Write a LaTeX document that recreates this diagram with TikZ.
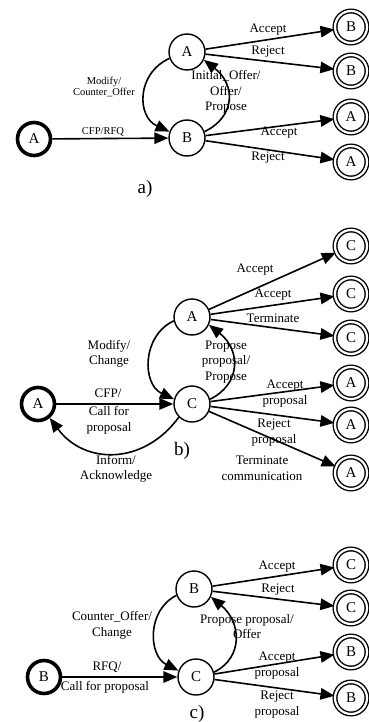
\documentclass[tikz,border=0pt]{standalone}
\usepackage{fontspec}
\setmainfont{Liberation Serif}
\usetikzlibrary{arrows.meta}
\begin{document}
\begin{tikzpicture}[x=1pt,y=-1pt,
 st/.style={circle,draw,line width=1.4pt,minimum size=36pt,inner sep=0pt,font=\fontsize{15}{15}\selectfont},
 init/.style={st,line width=3.6pt,minimum size=33pt},
 fin/.style={circle,draw,line width=1.4pt,double,double distance=2.2pt,minimum size=32pt,inner sep=0pt,font=\fontsize{15}{15}\selectfont},
 arr/.style={line width=1.6pt,-{Triangle[length=14pt,width=11.5pt]}},
 lbl/.style={font=\fontsize{13}{15.5}\selectfont,align=center,inner sep=0pt},
 sml/.style={font=\fontsize{10.5}{11.5}\selectfont,align=center,inner sep=0pt},
 subcap/.style={font=\fontsize{19}{19}\selectfont,inner sep=0pt}]
\useasboundingbox (0,0) rectangle (369,722);

% ---------- a) ----------
\node[init] (a0) at (34,139) {A};
\node[st] (a1) at (187,52) {A};
\node[st] (a2) at (187,138) {B};
\node[fin] (af1) at (351,27) {B};
\node[fin] (af2) at (351,71) {B};
\node[fin] (af3) at (351,117) {A};
\node[fin] (af4) at (351,162) {A};

\node[lbl] (la1) at (268,30) {Accept};
\node[lbl] (la2) at (268,52) {Reject};
\node[sml] (la3) at (104,87) {Modify/\\Counter\_Offer};
\node[lbl] (la4) at (226,92) {Initial\_Offer/\\Offer/\\Propose};
\node[sml] (la5) at (103,132) {CFP/RFQ};
\node[lbl] (la6) at (279,133) {Accept};
\node[lbl] (la7) at (268,158) {Reject};
\node[subcap] (lac) at (145,189) {a)};

\draw[arr] (a0) -- (a2);
\draw[arr] (a1) -- (af1);
\draw[arr] (a1) -- (af2);
\draw[arr] (a2) -- (af3);
\draw[arr] (a2) -- (af4);
\draw[arr] (a1.200) .. controls +(-33,15) and +(-33,-15) .. (a2.160);
\draw[arr] (a2.20) .. controls +(31,-15) and +(32,25) .. (a1.-25);

% ---------- b) ----------
\node[init] (b0) at (38,404) {A};
\node[st] (b1) at (192,317) {A};
\node[st] (b2) at (192,404) {C};
\node[fin] (bf1) at (351,246) {C};
\node[fin] (bf2) at (351,294) {C};
\node[fin] (bf3) at (351,338) {C};
\node[fin] (bf4) at (351,383) {A};
\node[fin] (bf5) at (351,425) {A};
\node[fin] (bf6) at (351,473) {A};

\node[lbl] (lb1) at (255,270) {Accept};
\node[lbl] (lb2) at (273,295) {Accept};
\node[lbl] (lb3) at (273,318) {Terminate};
\node[lbl] (lb4) at (109,354) {Modify/\\Change};
\node[lbl] (lb5) at (226,362) {Propose\\proposal/\\Propose};
\node[lbl] (lb6) at (108,393) {CFP/};
\node[lbl] (lb7) at (109,420.5) {Call for\\proposal};
\node[lbl] (lb8) at (285,393.5) {Accept\\proposal};
\node[lbl] (lb9) at (274,432.5) {Reject\\proposal};
\node[lbl] (lb10) at (262,468.5) {Terminate\\communication};
\node[subcap] (lbc) at (182,451) {b)};
\node[lbl] (lb11) at (116,469) {Inform/\\Acknowledge};

\draw[arr] (b0) -- (b2);
\draw[arr] (b1) -- (bf1);
\draw[arr] (b1) -- (bf2);
\draw[arr] (b1) -- (bf3);
\draw[arr] (b2) -- (bf4);
\draw[arr] (b2) -- (bf5);
\draw[arr] (b2) -- (bf6);
\draw[arr] (b1.192) .. controls +(-32,15) and +(-32,-15) .. (b2.165);
\draw[arr] (b2.15) .. controls +(31,-15) and +(32,25) .. (b1.-25);
\draw[arr] (b2.225) .. controls +(-35,48) and +(35,47) .. (b0.-50);

% ---------- c) ----------
\node[init] (c0) at (44,677) {B};
\node[st] (c1) at (194,589) {B};
\node[st] (c2) at (196,677) {C};
\node[fin] (cf1) at (351,565) {C};
\node[fin] (cf2) at (351,608) {C};
\node[fin] (cf3) at (351,652) {B};
\node[fin] (cf4) at (351,698) {B};

\node[lbl] (lc1) at (277,567) {Accept};
\node[lbl] (lc2) at (278,590) {Reject};
\node[lbl] (lc3) at (112,625.5) {Counter\_Offer/\\Change};
\node[lbl] (lc4) at (247,626.5) {Propose proposal/\\Offer};
\node[lbl] (lc5) at (107,667) {RFQ/};
\node[lbl] (lc6) at (105,687) {Call for proposal};
\node[lbl] (lc7) at (277,665.5) {Accept\\proposal};
\node[lbl] (lc8) at (277,704.5) {Reject\\proposal};
\node[subcap] (lcc) at (197,714) {c)};

\draw[arr] (c0) -- (c2);
\draw[arr] (c1) -- (cf1);
\draw[arr] (c1) -- (cf2);
\draw[arr] (c2) -- (cf3);
\draw[arr] (c2) -- (cf4);
\draw[arr] (c1.200) .. controls +(-30,15) and +(-30,-15) .. (c2.160);
\draw[arr] (c2.15) .. controls +(30,-15) and +(30,25) .. (c1.-25);
\end{tikzpicture}
\end{document}
